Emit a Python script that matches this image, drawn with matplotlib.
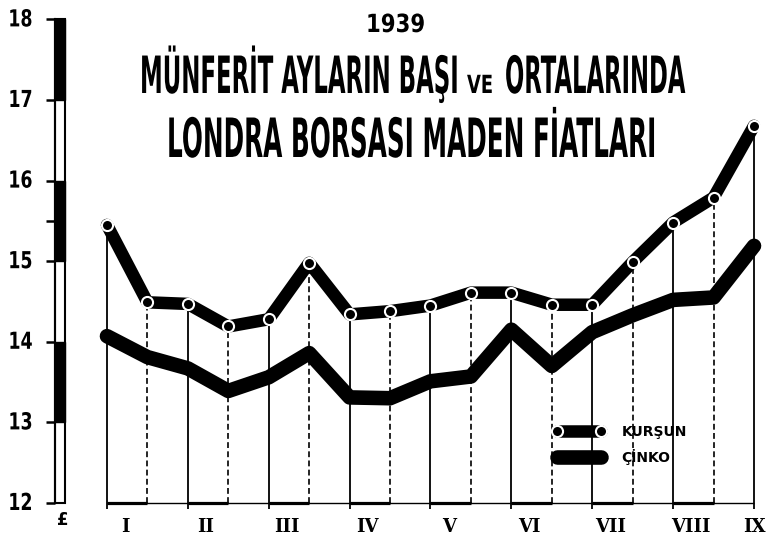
import numpy as np
import matplotlib
matplotlib.use('Agg')
import matplotlib.pyplot as plt
from matplotlib import patheffects, font_manager
from matplotlib.transforms import Affine2D, blended_transform_factory
from matplotlib.patches import Rectangle

# 1939 - Londra borsasi, ayların başı ve ortası (£ / ton)
ay_etiketleri = ['I', 'II', 'III', 'IV', 'V', 'VI', 'VII', 'VIII', 'IX']
# yarım ay aralıklı: I başı, I ortası, II başı, ..., IX başı
kursun = [15.45, 14.49, 14.47, 14.19, 14.28, 14.98, 14.34, 14.38, 14.45,
          14.61, 14.61, 14.46, 14.46, 14.99, 15.48, 15.79, 16.68]
cinko = [14.07, 13.81, 13.67, 13.39, 13.56, 13.86, 13.31, 13.30, 13.51,
         13.57, 14.15, 13.70, 14.12, 14.33, 14.52, 14.55, 15.19]
y_ticks = [12, 13, 14, 15, 16, 17, 18]
seri_adlari = ['KURŞUN', 'ÇİNKO']
baslik_yil = '1939'
baslik_1 = ['MÜNFERİT AYLARIN BAŞI', 'VE', 'ORTALARINDA']
baslik_2 = 'LONDRA BORSASI MADEN FİATLARI'

W, H, DPI = 769, 538, 100

names = {f.name for f in font_manager.fontManager.ttflist}
NARROW = 'Liberation Sans Narrow' if 'Liberation Sans Narrow' in names else 'DejaVu Sans'
plt.rcParams['font.family'] = [NARROW, 'DejaVu Sans']


class StretchY(patheffects.AbstractPathEffect):
    """stretch glyphs vertically around the baseline (tall condensed lettering)"""

    def __init__(self, sy):
        super().__init__()
        self.sy = sy

    def draw_path(self, renderer, gc, tpath, affine, rgbFace=None):
        renderer.draw_path(gc, tpath, Affine2D().scale(1, self.sy) + affine, rgbFace)


fig = plt.figure(figsize=(W / DPI, H / DPI), dpi=DPI)


def fit_text(s, left, right, baseline, cap):
    # fit text between left/right pixel edges, then stretch to the cap height
    t = fig.text(left / W, 1 - baseline / H, s, ha='left', va='baseline',
                 fontsize=20, fontweight='bold')
    w = t.get_window_extent(renderer=fig.canvas.get_renderer()).width
    fs = 20 * (right - left) / w
    t.set_fontsize(fs)
    t.set_path_effects([StretchY(cap / (0.72 * fs * DPI / 72))])
    return t


ax = fig.add_axes([55.5 / W, 35 / H, 706.6 / W, 483.6 / H])
x = np.arange(len(kursun))
ks = np.array(kursun)
bas, orta = x[::2], x[1::2]

# dikey çizgiler: ay başı düz, ay ortası kesik
ax.vlines(bas, 11.92, ks[::2], colors='black', lw=1.3, zorder=1, clip_on=False)
ax.vlines(orta, 12, ks[1::2], colors='black', lw=1.2, linestyles=(0, (3.5, 2)), zorder=1)
ax.hlines(12, x[0], x[-1], colors='black', lw=1.0, zorder=1, clip_on=False)
ax.hlines([12] * len(orta), bas[:-1], orta, colors='black', lw=2.3, zorder=1, clip_on=False)

l_cinko, = ax.plot(x, cinko, color='black', lw=10.5, solid_capstyle='round',
                   solid_joinstyle='round', zorder=3)
l_kursun, = ax.plot(x, kursun, color='black', lw=9, solid_capstyle='round',
                    solid_joinstyle='round', marker='o', ms=8, mfc='black',
                    mec='white', mew=1.5, zorder=4, clip_on=False)

ax.set_xlim(-1.273, 16.2)
ax.set_ylim(12, 18)
ax.set_xticks([])
ax.set_yticks(y_ticks)
ax.set_yticklabels([str(v) for v in y_ticks], fontweight='bold')
ax.set_yticks([15.5], minor=True)
ax.tick_params(axis='y', which='both', direction='out', length=6.5, width=1.8,
               pad=10, labelsize=12.5)
for lbl in ax.get_yticklabels():
    lbl.set_path_effects([StretchY(1.35)])
for sp in ('top', 'right', 'bottom'):
    ax.spines[sp].set_visible(False)
ax.spines['left'].set_linewidth(1.5)

# sol eksen şeridi (siyah / beyaz)
tr = blended_transform_factory(ax.transAxes, ax.transData)
bw = 10 / 706.6
ax.add_patch(Rectangle((0, y_ticks[0]), bw, y_ticks[-1] - y_ticks[0], transform=tr,
                       fill=False, ec='black', lw=1.5, clip_on=False))
for lo in y_ticks[1::2]:
    ax.add_patch(Rectangle((0, lo), bw, 1, transform=tr, fc='black', ec='black',
                           lw=1, clip_on=False))

for i, ad in enumerate(ay_etiketleri):
    xpos = bas[i] + (0.45 if i < len(ay_etiketleri) - 1 else 0.02)
    ax.annotate(ad, (xpos, 12), xytext=(0, -11), textcoords='offset points',
                ha='center', va='top', fontsize=13, fontweight='bold',
                family='DejaVu Serif', annotation_clip=False)

fig.text(63 / W, 1 - 520 / H, '£', ha='center', va='center', fontsize=12,
         fontweight='bold', family='DejaVu Sans')

ax.legend(handles=[l_kursun, l_cinko], labels=seri_adlari, loc='upper left',
          bbox_to_anchor=(553 / W, 1 - 425 / H), bbox_transform=fig.transFigure,
          frameon=False, borderpad=0, borderaxespad=0, handlelength=3.75,
          handletextpad=1.2, labelspacing=0.7, numpoints=2,
          prop=dict(weight='bold', size=10, family='DejaVu Sans'))

# başlık
fit_text(baslik_yil, 366, 425, 32, 18)
fit_text(baslik_1[0], 140, 458, 93, 37)
fit_text(baslik_1[1], 467, 493, 93, 18)
fit_text(baslik_1[2], 505, 685, 93, 37)
fit_text(baslik_2, 167, 655, 157, 39)

fig.savefig('out.png', dpi=DPI)
